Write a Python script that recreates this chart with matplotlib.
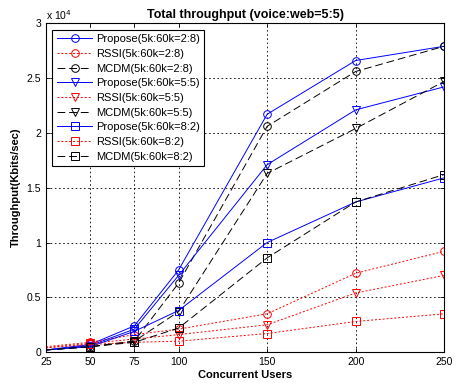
import matplotlib
matplotlib.use('Agg')
import matplotlib.pyplot as plt

# dados (em unidades de 1e4 Kbits/sec)
users = [25, 50, 75, 100, 150, 200, 250]

propose_28 = [0.02, 0.07, 0.24, 0.75, 2.17, 2.66, 2.79]
rssi_28 = [0.05, 0.09, 0.16, 0.21, 0.35, 0.72, 0.92]
mcdm_28 = [0.02, 0.05, 0.10, 0.63, 2.06, 2.56, 2.79]

propose_55 = [0.02, 0.06, 0.21, 0.70, 1.71, 2.21, 2.42]
rssi_55 = [0.04, 0.08, 0.12, 0.16, 0.25, 0.54, 0.70]
mcdm_55 = [0.02, 0.05, 0.10, 0.37, 1.63, 2.04, 2.47]

propose_82 = [0.02, 0.05, 0.19, 0.38, 1.00, 1.37, 1.59]
rssi_82 = [0.04, 0.07, 0.09, 0.10, 0.17, 0.28, 0.35]
mcdm_82 = [0.02, 0.05, 0.09, 0.22, 0.86, 1.37, 1.62]

series = [
    ('Propose(5k:60k=2:8)', propose_28, 'blue', '-', 'o'),
    ('RSSI(5k:60k=2:8)', rssi_28, 'red', ':', 'o'),
    ('MCDM(5k:60k=2:8)', mcdm_28, 'black', '--', 'o'),
    ('Propose(5k:60k=5:5)', propose_55, 'blue', '-', 'v'),
    ('RSSI(5k:60k=5:5)', rssi_55, 'red', ':', 'v'),
    ('MCDM(5k:60k=5:5)', mcdm_55, 'black', '--', 'v'),
    ('Propose(5k:60k=8:2)', propose_82, 'blue', '-', 's'),
    ('RSSI(5k:60k=8:2)', rssi_82, 'red', ':', 's'),
    ('MCDM(5k:60k=8:2)', mcdm_82, 'black', '--', 's'),
]

plt.rcParams['font.family'] = ['Liberation Sans', 'DejaVu Sans']
plt.rcParams['font.size'] = 7.5

fig = plt.figure(figsize=(4.58, 3.87), dpi=100)
ax = fig.add_axes([0.1, 0.09, 0.87, 0.85])

for label, vals, color, ls, mk in series:
    line = ax.plot(users, [v * 1e4 for v in vals], color=color, linestyle=ls,
                   marker=mk, markersize=5.5, markerfacecolor='none',
                   markeredgecolor=color, linewidth=0.7, markeredgewidth=0.7,
                   markevery=list(range(1, len(users))), label=label)
    if ls == '--':
        line[0].set_dashes([8, 4])
    if ls == ':':
        line[0].set_dashes([2, 2])

ax.set_xlim(25, 250)
ax.set_ylim(0, 3e4)
ax.set_xticks(users)
ax.set_yticks([0, 0.5e4, 1e4, 1.5e4, 2e4, 2.5e4, 3e4])
ax.set_yticklabels(['0', '0.5', '1', '1.5', '2', '2.5', '3'])
ax.text(0.0, 1.005, r'x 10$^4$', transform=ax.transAxes, fontsize=7.5, va='bottom', ha='left')
ax.tick_params(direction='in', length=3, width=0.6, top=True, right=True)
ax.grid(True, linestyle=(0, (2, 3)), color='black', linewidth=0.6)
for s in ax.spines.values():
    s.set_linewidth(0.8)

ax.set_title('Total throughput (voice:web=5:5)', fontweight='bold', fontsize=9, pad=4)
ax.set_xlabel('Concurrent Users', fontweight='bold', fontsize=8, labelpad=2)
ax.set_ylabel('Throughput(Kbits/sec)', fontweight='bold', fontsize=8, labelpad=4)

leg = ax.legend(loc='upper left', fontsize=8, fancybox=False, framealpha=1,
                edgecolor='black', handlelength=3.2, borderpad=0.4, numpoints=1,
                labelspacing=0.42, handletextpad=0.3, borderaxespad=0.6)
leg.get_frame().set_linewidth(0.8)

fig.savefig('out.png', dpi=100)
